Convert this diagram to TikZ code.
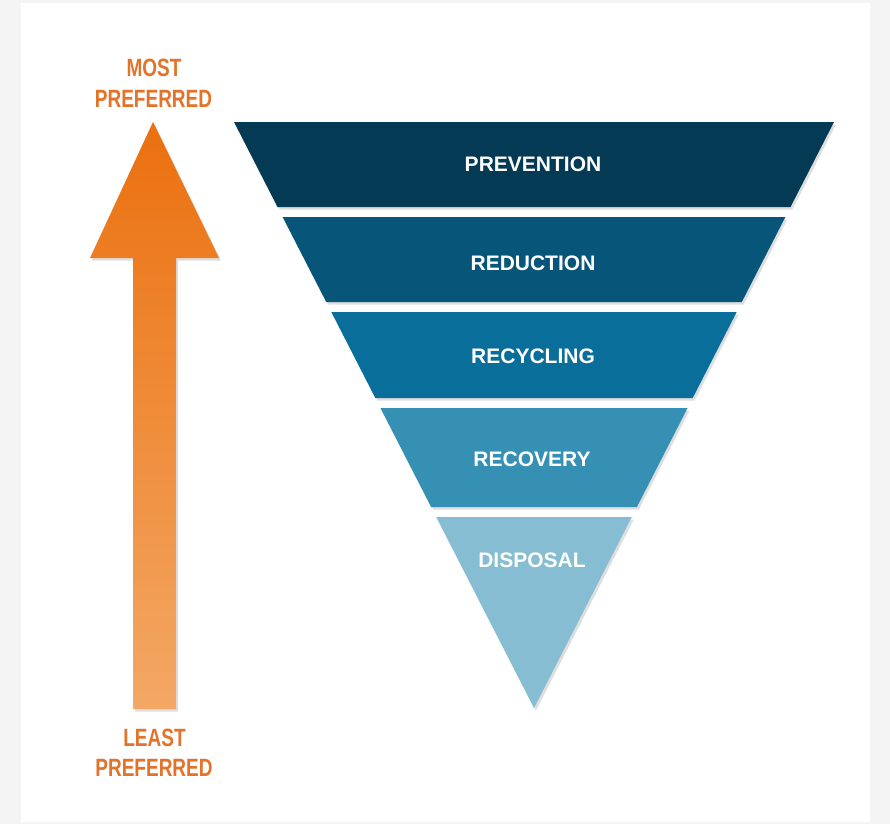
\documentclass[tikz,border=0pt]{standalone}
\usepackage{fontspec}
\setmainfont{Liberation Sans}
\newfontfamily\condfont[FakeStretch=0.76]{Liberation Sans}
\definecolor{bggray}{HTML}{F4F4F4}
\definecolor{bandA}{HTML}{043A54}
\definecolor{bandB}{HTML}{08557A}
\definecolor{bandC}{HTML}{0A6E9A}
\definecolor{bandD}{HTML}{3590B4}
\definecolor{bandE}{HTML}{86BDD3}
\definecolor{arrowtop}{HTML}{EB700F}
\definecolor{arrowbot}{HTML}{F3A865}
\definecolor{labelorange}{HTML}{E3732A}
\begin{document}
\begin{tikzpicture}[x=1pt,y=-1pt,
  softshadow/.style={preaction={fill=black,fill opacity=0.13,transform canvas={shift={(2pt,-2.5pt)}}}},
  bandlabel/.style={anchor=base,text=white,font=\fontsize{21}{25}\selectfont\bfseries,inner sep=0pt},
  preflabel/.style={anchor=base,text=labelorange,font=\condfont\fontsize{25}{30}\selectfont\bfseries,inner sep=0pt}]
\fill[bggray] (0,0) rectangle (890,824);
\fill[white] (21,3) rectangle (870,822);
\useasboundingbox (0,0) rectangle (890,824);
% arrow
\path[softshadow,top color=arrowtop,bottom color=arrowbot]
  (153,122) -- (219,258) -- (176,258) -- (176,709) -- (133,709) -- (133,258) -- (90,258) -- cycle;
\node[preflabel] (most) at (154,77) {MOST};
\node[preflabel] (mostpref) at (153.5,107) {PREFERRED};
\node[preflabel] (least) at (154.5,746) {LEAST};
\node[preflabel] (leastpref) at (154,776) {PREFERRED};
% pyramid bands
\path[softshadow,fill=bandA] (234,122) -- (834,122) -- (790.5,207) -- (277.5,207) -- cycle;
\path[softshadow,fill=bandB] (282.6,217) -- (785.4,217) -- (741.8,302) -- (326.2,302) -- cycle;
\path[softshadow,fill=bandC] (331.3,312) -- (736.7,312) -- (692.7,398) -- (375.3,398) -- cycle;
\path[softshadow,fill=bandD] (380.4,408) -- (687.6,408) -- (636.9,507) -- (431.1,507) -- cycle;
\path[softshadow,fill=bandE] (436.2,517) -- (631.8,517) -- (534,708) -- cycle;
\node[bandlabel] (prevention) at (533,171) {PREVENTION};
\node[bandlabel] (reduction) at (533,270) {REDUCTION};
\node[bandlabel] (recycling) at (533,363) {RECYCLING};
\node[bandlabel] (recovery) at (532,466) {RECOVERY};
\node[bandlabel] (disposal) at (532,567) {DISPOSAL};
\end{tikzpicture}
\end{document}
